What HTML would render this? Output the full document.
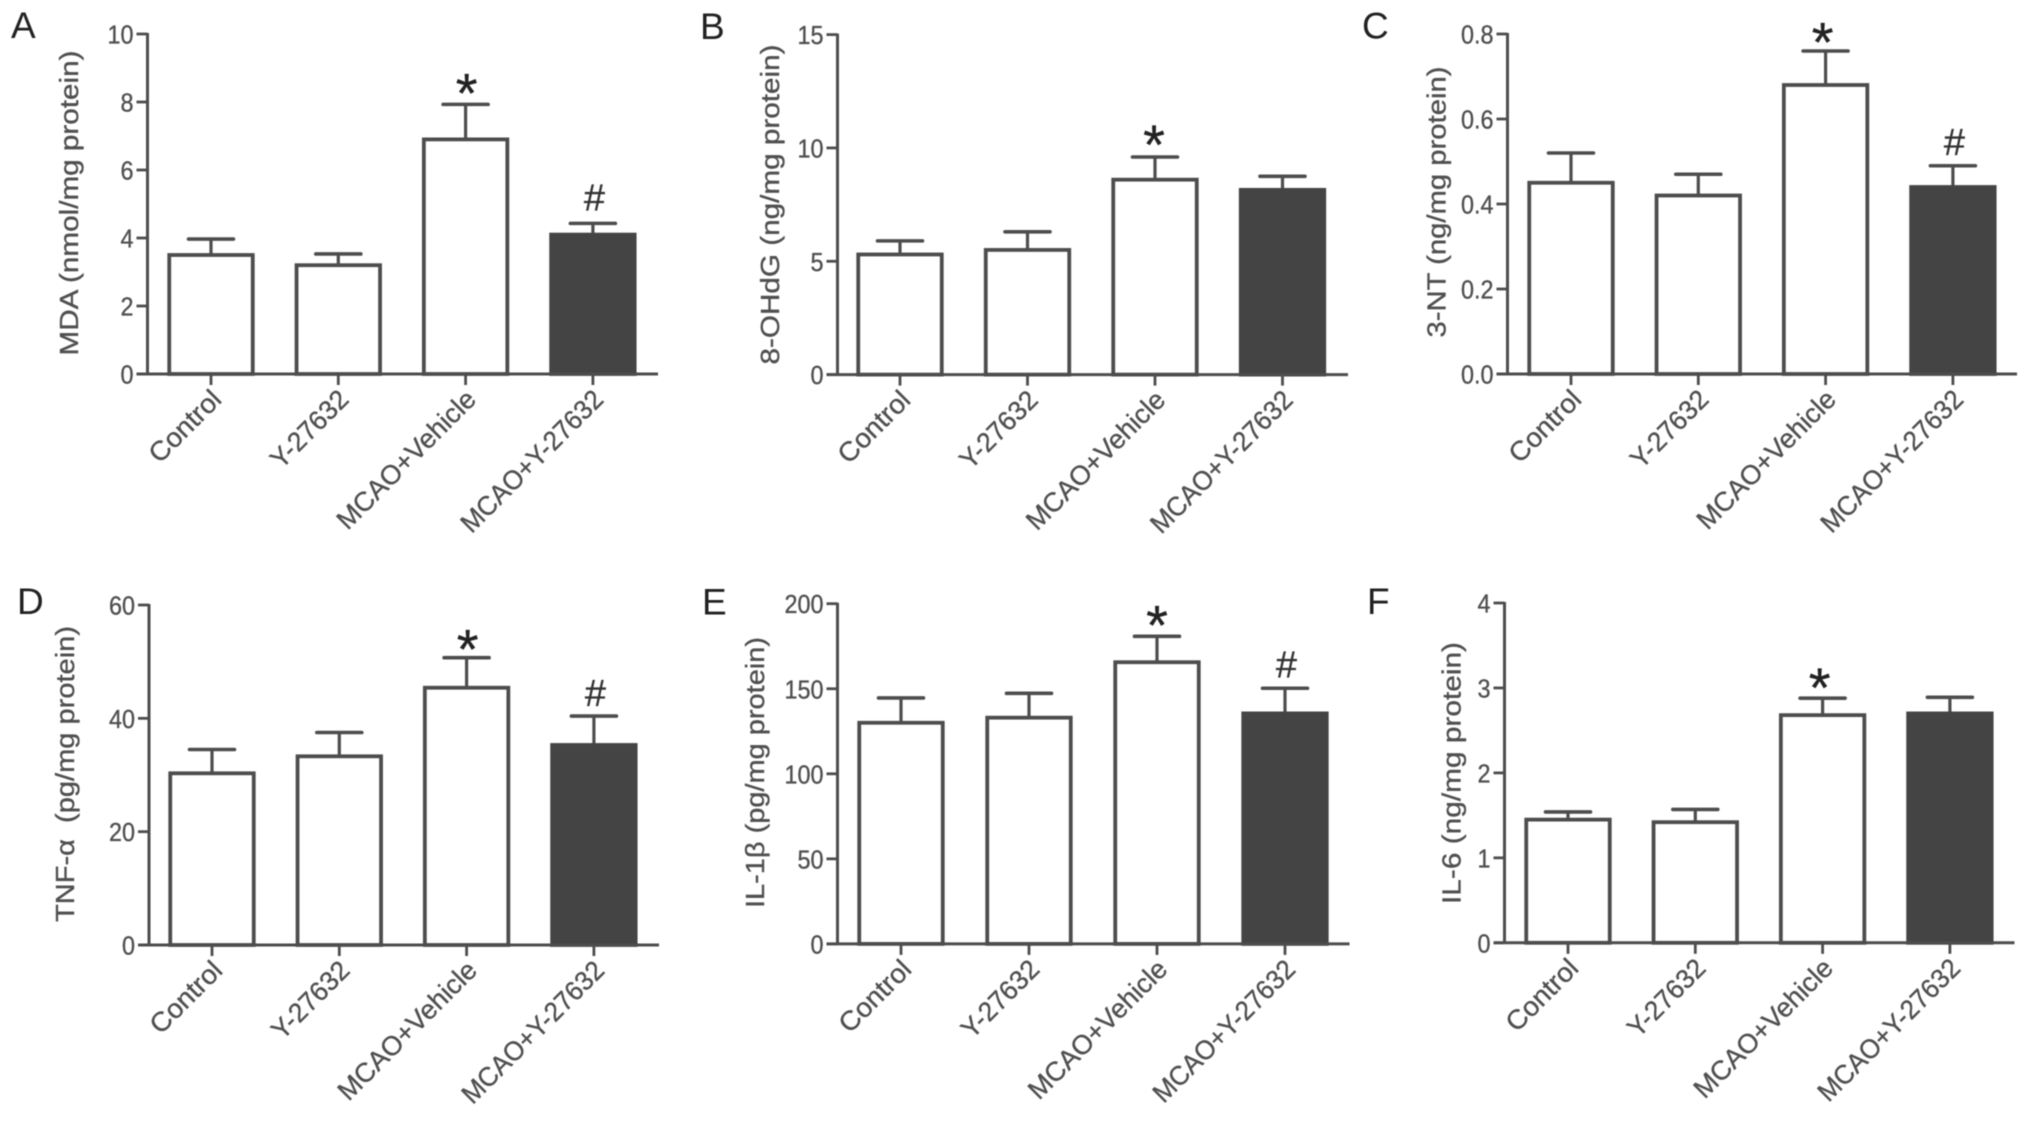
<!DOCTYPE html>
<html lang="en">
<head>
<meta charset="utf-8">
<title>Oxidative stress and cytokine bar charts</title>
<style>
html,body{margin:0;padding:0;background:#fff;width:2031px;height:1122px;overflow:hidden}
svg{display:block;filter:blur(.6px)}
text{font-family:"Liberation Sans","DejaVu Sans",sans-serif;fill:#505050;stroke:#505050;stroke-width:.35px}
.letter{font-size:37px;fill:#222;stroke:none}
.title{font-size:26px}
.tick{font-size:26px}
.cat{font-size:27px}
.star{font-size:56px;fill:#222;stroke:#222;text-anchor:middle}
.hash{font-size:38px;fill:#333;stroke:#333;text-anchor:middle}
</style>
</head>
<body>
<svg id="figure" xmlns="http://www.w3.org/2000/svg" width="2031" height="1122" viewBox="0 0 2031 1122">
<rect width="2031" height="1122" fill="#fff"/>
<g id="panel-a">
<text class="letter" x="11" y="38">A</text>
<text class="title" transform="translate(78 203) rotate(-90)" text-anchor="middle" textLength="305" lengthAdjust="spacingAndGlyphs">MDA (nmol/mg protein)</text>
</g>
<g id="panel-b">
<text class="letter" x="700" y="39">B</text>
<text class="title" transform="translate(779 204.5) rotate(-90)" text-anchor="middle" textLength="320" lengthAdjust="spacingAndGlyphs">8-OHdG (ng/mg protein)</text>
</g>
<g id="panel-c">
<text class="letter" x="1362" y="38.5">C</text>
<text class="title" transform="translate(1445.5 202) rotate(-90)" text-anchor="middle" textLength="271" lengthAdjust="spacingAndGlyphs">3-NT (ng/mg protein)</text>
</g>
<g id="panel-d">
<text class="letter" x="17" y="614">D</text>
<text class="title" transform="translate(74 774) rotate(-90)" text-anchor="middle" textLength="296" lengthAdjust="spacingAndGlyphs" xml:space="preserve">TNF-α  (pg/mg protein)</text>
</g>
<g id="panel-e">
<text class="letter" x="702" y="614.5">E</text>
<text class="title" transform="translate(764 772.5) rotate(-90)" text-anchor="middle" textLength="271" lengthAdjust="spacingAndGlyphs">IL-1β (pg/mg protein)</text>
</g>
<g id="panel-f">
<text class="letter" x="1367" y="614">F</text>
<text class="title" transform="translate(1460.5 773) rotate(-90)" text-anchor="middle" textLength="262" lengthAdjust="spacingAndGlyphs">IL-6 (ng/mg protein)</text>
</g>
</svg>
<script>
var categories = ['Control', 'Y-27632', 'MCAO+Vehicle', 'MCAO+Y-27632'];

var valuesA = [3.5, 3.2, 6.9, 4.1];
var errorTopsA = [3.97, 3.53, 7.93, 4.43];
var ticksA = ['0', '2', '4', '6', '8', '10'];
var marksA = ['', '', '*', '#'];

var valuesB = [5.3, 5.5, 8.6, 8.15];
var errorTopsB = [5.9, 6.3, 9.6, 8.75];
var ticksB = ['0', '5', '10', '15'];
var marksB = ['', '', '*', ''];

var valuesC = [0.45, 0.42, 0.68, 0.44];
var errorTopsC = [0.52, 0.47, 0.76, 0.49];
var ticksC = ['0.0', '0.2', '0.4', '0.6', '0.8'];
var marksC = ['', '', '*', '#'];

var valuesD = [30.3, 33.3, 45.4, 35.3];
var errorTopsD = [34.5, 37.5, 50.7, 40.4];
var ticksD = ['0', '20', '40', '60'];
var marksD = ['', '', '*', '#'];

var valuesE = [130, 133, 165.6, 135.5];
var errorTopsE = [144.6, 147.3, 180.8, 150.3];
var ticksE = ['0', '50', '100', '150', '200'];
var marksE = ['', '', '*', '#'];

var valuesF = [1.45, 1.42, 2.68, 2.7];
var errorTopsF = [1.54, 1.57, 2.88, 2.89];
var ticksF = ['0', '1', '2', '3', '4'];
var marksF = ['', '', '*', ''];

var SVGNS = 'http://www.w3.org/2000/svg';
var LINE = '#4d4d4d';
var DARK = '#444444';
var LABEL_STRETCH = {'Control': 1.03, 'Y-27632': 0.98, 'MCAO+Vehicle': 1, 'MCAO+Y-27632': 0.96};

function node(tag, parent) {
  var el = document.createElementNS(SVGNS, tag);
  parent.appendChild(el);
  return el;
}
function set(el, attrs) {
  for (var k in attrs) { el.setAttribute(k, attrs[k]); }
  return el;
}

function drawPanel(id, values, errorTops, ticks, marks, frame) {
  var g = document.getElementById(id);
  var max = parseFloat(ticks[ticks.length - 1]);
  var yScale = function (v) { return frame.y0 - (v / max) * (frame.y0 - frame.yTop); };
  var xScale = function (i) { return frame.c0 + i * frame.step; };
  var barW = 83.5;

  categories.forEach(function (cat, i) {
    var cx = xScale(i);
    var top = yScale(values[i]);
    var errTop = yScale(errorTops[i]);

    var stem = node('line', g);
    
    
    set(stem, {x1: cx, x2: cx, y1: top, y2: errTop, stroke: LINE, 'stroke-width': 3.2});

    var cap = node('line', g);
    
    
    set(cap, {x1: cx - 22.5, x2: cx + 22.5, y1: errTop, y2: errTop, stroke: LINE, 'stroke-width': 3.6, 'stroke-linecap': 'round'});

    var bar = node('rect', g);
    
    
    set(bar, {
      x: cx - barW / 2, y: top, width: barW, height: frame.y0 - top,
      fill: i === 3 ? DARK : '#fff',
      stroke: i === 3 ? DARK : LINE,
      'stroke-width': 3.8
    });

    var tick = node('line', g);
    
    
    set(tick, {x1: cx, x2: cx, y1: frame.y0, y2: frame.y0 + 11, stroke: LINE, 'stroke-width': 2.8});

    var label = node('text', g);
    
    
    set(label, {
      'class': 'cat', 'text-anchor': 'end',
      transform: 'translate(' + (cx + 12) + ' ' + (frame.y0 + 27) + ') rotate(-45) scale(' + (LABEL_STRETCH[cat] || 1) + ' 1)'
    });
    label.textContent = cat;

    if (marks[i] === '*') {
      var star = node('text', g);
      
      
      set(star, {'class': 'star', x: cx + frame.starDx, y: errTop - frame.starGap + 29});
      star.textContent = marks[i];
    } else if (marks[i] === '#') {
      var hash = node('text', g);
      
      
      set(hash, {'class': 'hash', x: cx + 1.5, y: errTop - frame.hashGap + 12});
      hash.textContent = marks[i];
    }
  });

  ticks.forEach(function (t) {
    var y = yScale(parseFloat(t));
    var tk = node('line', g);
    
    
    set(tk, {x1: frame.axisX - 11, x2: frame.axisX, y1: y, y2: y, stroke: LINE, 'stroke-width': 2.8});

    var tl = node('text', g);
    
    
    set(tl, {
      'class': 'tick', 'text-anchor': 'end',
      transform: 'translate(' + (frame.axisX - 14) + ' ' + (y + 9.5) + ') scale(.9 1)'
    });
    tl.textContent = t;
  });

  var yAxis = node('line', g);
  
  
  set(yAxis, {x1: frame.axisX, x2: frame.axisX, y1: frame.yTop - 1, y2: frame.y0 + 1, stroke: LINE, 'stroke-width': 3});

  var xAxis = node('line', g);
  
  
  set(xAxis, {x1: frame.axisX - 11, x2: frame.axisEnd, y1: frame.y0, y2: frame.y0, stroke: LINE, 'stroke-width': 3});
}

drawPanel('panel-a', valuesA, errorTopsA, ticksA, marksA, {axisX: 147.5, axisEnd: 658, yTop: 34, y0: 374, c0: 211, step: 127.3, starGap: 21, hashGap: 25, starDx: 1});
drawPanel('panel-b', valuesB, errorTopsB, ticksB, marksB, {axisX: 837.5, axisEnd: 1348, yTop: 34.6, y0: 374.6, c0: 900, step: 127.5, starGap: 22, hashGap: 25, starDx: -1});
drawPanel('panel-c', valuesC, errorTopsC, ticksC, marksC, {axisX: 1507.5, axisEnd: 2017, yTop: 34, y0: 374, c0: 1571, step: 127.3, starGap: 18.6, hashGap: 23, starDx: -3});
drawPanel('panel-d', valuesD, errorTopsD, ticksD, marksD, {axisX: 149, axisEnd: 659, yTop: 605, y0: 945, c0: 212, step: 127.3, starGap: 18, hashGap: 22, starDx: 1});
drawPanel('panel-e', valuesE, errorTopsE, ticksE, marksE, {axisX: 837.5, axisEnd: 1349.5, yTop: 603.7, y0: 943.9, c0: 901, step: 128, starGap: 21, hashGap: 22.5, starDx: 0});
drawPanel('panel-f', valuesF, errorTopsF, ticksF, marksF, {axisX: 1504.5, axisEnd: 2014.5, yTop: 603, y0: 942.8, c0: 1568, step: 127.3, starGap: 20, hashGap: 22, starDx: -3});
</script>
</body>
</html>
